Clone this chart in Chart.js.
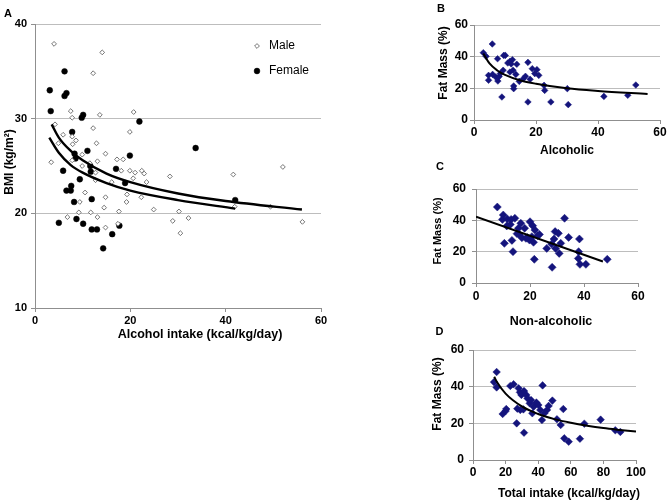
<!DOCTYPE html>
<html lang="en">
<head>
<meta charset="UTF-8" />
<title>BMI and fat mass vs intake</title>
<script src="https://cdn.jsdelivr.net/npm/chart.js@4.4.1/dist/chart.umd.min.js"></script>
<style>
  html, body { margin: 0; padding: 0; background: #fff; }
  body { width: 671px; height: 504px; position: relative; overflow: hidden; }
  canvas { position: absolute; }
  #chartA { left: 0; top: 0; }
  #chartB { left: 400px; top: 0; }
  #chartC { left: 400px; top: 158px; }
  #chartD { left: 400px; top: 325px; }
</style>
</head>
<body>
<canvas id="chartA" width="340" height="345"></canvas>
<canvas id="chartB" width="271" height="160"></canvas>
<canvas id="chartC" width="271" height="177"></canvas>
<canvas id="chartD" width="271" height="179"></canvas>

<script>
// Panel A - alcohol intake (kcal/kg/day) vs BMI
const maleAlcohol = [4.0, 14.1, 12.2, 7.5, 7.8, 13.6, 20.7, 4.2, 5.9, 12.2, 19.9, 4.9, 7.9, 7.8, 8.6, 12.9, 3.4, 9.9, 7.8, 9.9,
  13.1, 11.5, 14.8, 17.2, 18.5, 12.7, 18.1, 19.9, 21.0, 22.4, 22.9, 20.6, 23.4, 16.1, 12.7, 28.3, 10.5, 19.3, 14.8, 22.3,
  9.4, 19.2, 9.2, 11.7, 17.6, 14.5, 24.9, 30.2, 6.8, 13.1, 17.4, 14.8, 28.9, 32.2, 30.5, 41.6, 41.9, 49.4, 52.0, 56.1];
const maleBmi = [37.9, 37.0, 34.8, 30.8, 30.1, 30.4, 30.7, 29.4, 28.3, 29.0, 28.6, 27.4, 27.3, 28.1, 27.7, 27.4, 25.4, 26.2, 25.6, 25.0,
  25.5, 25.3, 26.3, 25.7, 25.7, 24.3, 24.5, 24.5, 24.3, 24.5, 24.2, 23.7, 23.3, 23.3, 23.5, 23.9, 22.2, 22.0, 21.7, 21.7,
  21.2, 21.2, 20.1, 20.1, 20.2, 20.6, 20.4, 20.2, 19.6, 19.6, 18.9, 18.5, 19.2, 19.5, 17.9, 24.1, 20.7, 20.7, 24.9, 19.1];
const femaleAlcohol = [3.1, 3.3, 6.2, 6.2, 6.6, 9.8, 10.1, 7.8, 5.9, 8.3, 8.5, 11.0, 11.6, 11.7, 9.4, 7.6, 6.6, 7.5, 8.2, 11.9,
  5.0, 8.7, 10.1, 11.9, 13.0, 16.2, 17.7, 14.3, 17.0, 18.9, 19.9, 21.9, 33.7, 42.0];
const femaleBmi = [33.0, 30.8, 35.0, 32.4, 32.7, 30.1, 30.4, 28.6, 24.5, 26.3, 25.8, 26.6, 25.0, 24.4, 23.6, 22.9, 22.4, 22.4, 21.2, 21.5,
  19.0, 19.4, 18.9, 18.3, 18.3, 17.8, 18.7, 16.3, 24.7, 23.2, 26.1, 29.7, 26.9, 21.4];
// fitted curves
const maleFitX = [3.5, 5, 7.5, 10, 15, 20, 30, 40, 56];
const maleFitY = [29.4, 28.0, 26.6, 25.6, 24.2, 23.3, 22.1, 21.3, 20.4];
const femaleFitX = [3, 5, 7.5, 10, 15, 20, 30, 42];
const femaleFitY = [28.0, 26.4, 25.1, 24.3, 23.2, 22.4, 21.4, 20.5];

// Panel B - alcoholic intake vs fat mass
const alcoholicX = [3.0, 3.9, 5.9, 7.6, 9.6, 10.1, 4.7, 6.0, 4.7, 7.0, 7.7, 8.1, 8.5, 9.4, 9.0, 10.9, 11.6, 12.4, 12.0, 13.8,
  11.6, 12.6, 13.5, 12.8, 12.8, 14.6, 15.9, 16.6, 17.4, 18.1, 18.8, 19.6, 20.3, 20.9, 17.4, 22.6, 22.8, 24.8, 30.1, 30.4,
  41.9, 49.6, 52.2];
const alcoholicFat = [42.5, 40.2, 48.0, 38.7, 40.8, 40.8, 28.2, 28.8, 25.1, 27.2, 24.6, 27.4, 29.3, 31.4, 14.5, 36.0, 37.1, 38.1, 35.4, 35.2,
  30.3, 31.4, 28.8, 21.5, 19.8, 24.4, 26.1, 27.6, 36.4, 25.7, 32.4, 29.3, 31.8, 28.2, 11.4, 21.9, 18.7, 11.4, 19.8, 9.7,
  14.9, 15.6, 22.1];
const alcoholicFitX = [3, 5, 7.5, 10, 15, 20, 30, 40, 56];
const alcoholicFitY = [42.0, 35.7, 31.3, 28.5, 25.0, 22.9, 20.0, 18.3, 16.4];

// Panel C - non-alcoholic intake vs fat mass
const nonAlcX = [7.9, 10.1, 9.8, 11.6, 13.0, 14.4, 11.4, 12.7, 10.5, 13.3, 13.7, 15.7, 16.6, 16.0, 17.0, 18.5, 20.0, 21.0, 21.8, 20.7,
  19.8, 21.3, 22.8, 21.6, 26.2, 28.0, 28.9, 29.3, 30.5, 29.5, 30.8, 31.4, 28.2, 32.8, 34.3, 38.3, 38.0, 37.9, 38.5, 40.7,
  48.6, 15.2, 18.0, 23.5, 19.0];
const nonAlcFat = [48.5, 43.4, 40.6, 40.9, 40.6, 41.3, 36.4, 37.4, 25.3, 27.2, 20.0, 34.9, 38.1, 31.1, 28.9, 28.5, 39.1, 36.6, 33.8, 29.6,
  27.4, 26.0, 30.2, 15.1, 22.1, 24.9, 28.1, 32.8, 31.7, 22.1, 18.9, 25.3, 10.0, 41.3, 29.1, 28.1, 20.0, 15.7, 11.9, 11.9,
  15.1, 31.5, 35.0, 31.0, 29.0];
const nonAlcFitX = [0, 47];
const nonAlcFitY = [42.3, 13.7];

// Panel D - total intake vs fat mass
const totalX = [12.9, 14.5, 14.5, 18.2, 20.0, 20.4, 22.9, 24.9, 26.8, 27.2, 28.0, 28.8, 29.7, 31.3, 29.0, 30.9, 31.3, 32.7, 33.5, 34.8,
  35.6, 36.4, 37.2, 38.9, 40.1, 41.3, 42.3, 42.7, 43.8, 45.4, 46.4, 48.7, 51.5, 53.8, 55.4, 56.0, 58.7, 65.6, 68.3, 78.3,
  87.3, 90.4];
const totalFat = [42.5, 48.0, 39.6, 25.1, 26.7, 27.8, 40.4, 41.3, 20.0, 28.0, 39.1, 36.9, 35.5, 37.6, 27.3, 27.6, 14.9, 35.5, 33.6, 30.9,
  32.7, 25.5, 29.1, 31.3, 30.0, 27.3, 21.8, 40.7, 25.5, 27.3, 29.5, 32.4, 22.2, 19.1, 27.8, 11.8, 10.0, 11.6, 19.8, 22.0,
  16.2, 15.3];
const totalFitX = [13, 15, 20, 30, 40, 50, 60, 70, 80, 90, 100];
const totalFitY = [45.4, 42.1, 36.2, 29.2, 25.1, 22.3, 20.3, 18.7, 17.4, 16.4, 15.5];

const navy = '#14147c';
const gridGray = '#bdbdbd';
const axisGray = '#8f8f8f';
const fam = '"Liberation Sans", Arial, sans-serif';

function pts(xs, ys) {
  return xs.map((x, i) => ({ x: x, y: ys[i] }));
}

function fitLine(xs, ys, width) {
  return {
    label: 'fit', data: pts(xs, ys), showLine: true, pointRadius: 0,
    borderColor: '#000', borderWidth: width, fill: false, cubicInterpolationMode: 'monotone'
  };
}

function diamonds(xs, ys, r) {
  return {
    label: 'data', data: pts(xs, ys), pointStyle: 'rectRot', pointRadius: r,
    backgroundColor: navy, borderColor: navy, borderWidth: 0.5
  };
}

// draws panel letters and axis titles (titles are off-centre in the original)
const panelText = {
  id: 'panelText',
  afterDraw(chart, args, opts) {
    const ctx = chart.ctx;
    ctx.save();
    ctx.fillStyle = '#000';
    ctx.textAlign = 'center';
    ctx.textBaseline = 'middle';
    (opts.items || []).forEach(t => {
      ctx.save();
      ctx.font = t.font + ' ' + fam;
      ctx.translate(t.x, t.y);
      if (t.rot) ctx.rotate(-Math.PI / 2);
      ctx.fillText(t.text, 0, 0);
      ctx.restore();
    });
    ctx.restore();
  }
};

// Male / Female key sitting inside the plot of panel A
const sexLegend = {
  id: 'sexLegend',
  afterDraw(chart) {
    const { ctx, chartArea } = chart;
    const mx = chartArea.left + 222;
    const tx = chartArea.left + 234;
    const rows = [
      { label: 'Male', y: chartArea.top + 22 },
      { label: 'Female', y: chartArea.top + 47 }
    ];
    ctx.save();
    rows.forEach(row => {
      const d = chart.data.datasets.find(ds => ds.label === row.label);
      const r = d.pointRadius;
      ctx.beginPath();
      if (d.pointStyle === 'rectRot') {
        ctx.moveTo(mx - r, row.y);
        ctx.lineTo(mx, row.y - r);
        ctx.lineTo(mx + r, row.y);
        ctx.lineTo(mx, row.y + r);
        ctx.closePath();
      } else {
        ctx.arc(mx, row.y, r, 0, Math.PI * 2);
      }
      ctx.fillStyle = d.backgroundColor;
      ctx.fill();
      ctx.lineWidth = d.borderWidth;
      ctx.strokeStyle = d.borderColor;
      ctx.stroke();
      ctx.fillStyle = '#000';
      ctx.font = '12px ' + fam;
      ctx.textAlign = 'left';
      ctx.textBaseline = 'middle';
      ctx.fillText(row.label, tx, row.y);
    });
    ctx.restore();
  }
};

function panel(id, datasets, o) {
  return new Chart(document.getElementById(id), {
    type: 'scatter',
    data: { datasets: datasets },
    options: {
      responsive: false,
      animation: false,
      layout: { padding: o.pad },
      plugins: {
        legend: { display: false },
        tooltip: { enabled: false },
        panelText: { items: o.texts }
      },
      scales: {
        x: {
          min: o.x[0], max: o.x[1],
          ticks: { stepSize: o.x[2], padding: o.xPad, color: '#000', font: { family: fam, size: o.tickSize, weight: 'bold' } },
          grid: { drawOnChartArea: false, tickLength: 4, tickColor: axisGray },
          border: { color: axisGray },
          afterFit: s => { s.height = o.xH; }
        },
        y: {
          min: o.y[0], max: o.y[1],
          ticks: { stepSize: o.y[2], padding: o.yPad, color: '#000', font: { family: fam, size: o.tickSize, weight: 'bold' } },
          grid: { color: gridGray, tickLength: 4, tickColor: axisGray },
          border: { color: axisGray },
          afterFit: s => { s.width = o.yW; }
        }
      }
    },
    plugins: [panelText].concat(o.extra || [])
  });
}

panel('chartA', [
  fitLine(maleFitX, maleFitY, 2.4),
  fitLine(femaleFitX, femaleFitY, 2.4),
  { label: 'Male', data: pts(maleAlcohol, maleBmi), pointStyle: 'rectRot', pointRadius: 2.4,
    backgroundColor: '#fff', borderColor: '#666', borderWidth: 0.9 },
  { label: 'Female', data: pts(femaleAlcohol, femaleBmi), pointStyle: 'circle', pointRadius: 2.9,
    backgroundColor: '#000', borderColor: '#000', borderWidth: 0.5 }
], {
  pad: { left: 2, top: 24, right: 19, bottom: 0 }, yW: 33, xH: 37,
  x: [0, 60, 20], y: [10, 40, 10], tickSize: 11, xPad: 2, yPad: 4,
  texts: [
    { text: 'A', x: 8, y: 13.5, font: 'bold 11px' },
    { text: 'BMI (kg/m²)', x: 10, y: 162, rot: true, font: 'bold 12px' },
    { text: 'Alcohol intake (kcal/kg/day)', x: 200, y: 335, font: 'bold 12.5px' }
  ],
  extra: [sexLegend]
});

panel('chartB', [
  fitLine(alcoholicFitX, alcoholicFitY, 2),
  diamonds(alcoholicX, alcoholicFat, 3.3)
], {
  pad: { left: 0, top: 25, right: 11, bottom: 0 }, yW: 74, xH: 40,
  x: [0, 60, 20], y: [0, 60, 20], tickSize: 12, xPad: 1, yPad: 2,
  texts: [
    { text: 'B', x: 41, y: 8.5, font: 'bold 11px' },
    { text: 'Fat Mass (%)', x: 44, y: 63, rot: true, font: 'bold 12px' },
    { text: 'Alcoholic', x: 167, y: 150.7, font: 'bold 12px' }
  ]
});

panel('chartC', [
  fitLine(nonAlcFitX, nonAlcFitY, 2),
  diamonds(nonAlcX, nonAlcFat, 4)
], {
  pad: { left: 0, top: 31, right: 33, bottom: 0 }, yW: 76, xH: 52,
  x: [0, 60, 20], y: [0, 60, 20], tickSize: 12, xPad: 2, yPad: 6,
  texts: [
    { text: 'C', x: 40, y: 9, font: 'bold 11px' },
    { text: 'Fat Mass (%)', x: 38, y: 73, rot: true, font: 'bold 11px' },
    { text: 'Non-alcoholic', x: 151, y: 163.7, font: 'bold 12.5px' }
  ]
});

panel('chartD', [
  fitLine(totalFitX, totalFitY, 2),
  diamonds(totalX, totalFat, 3.8)
], {
  pad: { left: 0, top: 25, right: 35, bottom: 0 }, yW: 73, xH: 44,
  x: [0, 100, 20], y: [0, 60, 20], tickSize: 12, xPad: 1, yPad: 5,
  texts: [
    { text: 'D', x: 39.5, y: 7, font: 'bold 11px' },
    { text: 'Fat Mass (%)', x: 37.5, y: 69, rot: true, font: 'bold 12px' },
    { text: 'Total intake (kcal/kg/day)', x: 169, y: 168.3, font: 'bold 12px' }
  ]
});
</script>
</body>
</html>
